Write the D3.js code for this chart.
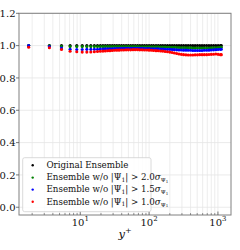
<!DOCTYPE html>
<html><head><meta charset="utf-8">
<script src="https://cdn.jsdelivr.net/npm/d3@7"></script>
<style>body{margin:0;background:#fff}svg{display:block}</style>
</head><body><svg id="c" width="240" height="250"></svg>
<script>
const yPlus = [1.78,3.56,5.34,7.12,8.90,10.68,12.46,14.24,16.02,17.80,19.58,21.36,23.14,
 25,27,29.2,31.5,34,36.7,39.7,42.8,46.3,50,54,58.3,63,68,73.4,79.3,85.6,92.5,100,108,
 116,126,136,147,158,171,185,200,216,233,252,272,294,317,343,370,400,432,466,504,
 544,587,634,685,740,799,863,932,1007,1087,1121];
const original = yPlus.map(() => 1.0);
const wo20 = [1.000,0.999,0.996,0.994,0.994,0.994,0.994,0.994,0.994,0.994,0.994,0.994,0.994,
 0.994,0.994,0.994,0.994,0.994,0.994,0.994,0.994,0.994,0.994,0.994,0.994,0.994,0.994,0.993,0.993,0.993,0.993,0.993,0.993,
 0.992,0.992,0.992,0.991,0.991,0.991,0.990,0.990,0.989,0.989,0.988,0.988,0.987,0.987,0.986,0.986,0.986,0.985,0.985,0.985,
 0.985,0.985,0.985,0.985,0.985,0.986,0.986,0.987,0.988,0.989,0.990];
const wo15 = [1.000,0.995,0.985,0.978,0.976,0.976,0.977,0.977,0.978,0.978,0.979,0.979,0.980,
 0.980,0.981,0.981,0.982,0.982,0.982,0.983,0.983,0.983,0.983,0.983,0.983,0.983,0.983,0.983,0.983,0.982,0.982,0.982,0.981,
 0.981,0.980,0.980,0.979,0.979,0.978,0.977,0.977,0.976,0.975,0.974,0.973,0.973,0.972,0.972,0.971,0.971,0.970,0.970,0.970,
 0.970,0.970,0.971,0.971,0.972,0.973,0.974,0.975,0.976,0.977,0.978];
const wo10 = [0.990,0.987,0.976,0.965,0.962,0.960,0.960,0.961,0.962,0.964,0.965,0.966,0.967,
 0.968,0.969,0.970,0.971,0.972,0.972,0.973,0.973,0.974,0.974,0.974,0.975,0.975,0.975,0.974,0.974,0.973,0.973,0.972,0.971,
 0.970,0.969,0.968,0.967,0.966,0.964,0.962,0.960,0.957,0.954,0.951,0.948,0.946,0.944,0.943,0.942,0.942,0.942,0.943,0.943,
 0.944,0.944,0.944,0.944,0.945,0.946,0.947,0.948,0.946,0.944,0.944];
const yTicks = [0.0,0.2,0.4,0.6,0.8,1.0,1.2];
const xMajor = [10,100,1000];
const seriesNames = ["Original Ensemble","2.0","1.5","1.0"];
const seriesColors = ["#000000","#008000","#0000ff","#ff0000"];
const seriesData = [original, wo20, wo15, wo10];

const svg = d3.select("#c");
const L = 19, R = 231, T = 13.3, B = 215;
const x = d3.scaleLog().domain([Math.pow(10,0.11), Math.pow(10,3.19)]).range([L,R]);
const y = d3.scaleLinear().domain([-0.048,1.2]).range([B,T]);
const serif = "'DejaVu Serif', serif";

const minor = [];
for (let e = 0; e <= 3; e++) for (let m = 2; m <= 9; m++) { const v = m*Math.pow(10,e); if (v > x.domain()[0] && v < x.domain()[1]) minor.push(v); }

const grid = svg.append("g");
grid.selectAll("line.vm").data(minor.concat(xMajor)).join("line")
  .attr("x1", d => x(d)).attr("x2", d => x(d)).attr("y1", T).attr("y2", B)
  .attr("stroke", "#e8e8e8").attr("stroke-width", 0.8);
grid.selectAll("line.h").data(yTicks).join("line")
  .attr("x1", L).attr("x2", R).attr("y1", d => y(d)).attr("y2", d => y(d))
  .attr("stroke", "#e4e4e4").attr("stroke-width", 0.8);

seriesData.forEach((vals, i) => {
  svg.append("g").selectAll("circle").data(yPlus).join("circle")
    .attr("cx", d => x(d)).attr("cy", (d, j) => y(vals[j])).attr("r", 1.55)
    .attr("fill", seriesColors[i]);
});

svg.append("rect").attr("x", L).attr("y", T).attr("width", R-L).attr("height", B-T)
  .attr("fill", "none").attr("stroke", "#808080").attr("stroke-width", 1);

svg.append("g").selectAll("line").data(minor).join("line")
  .attr("x1", d => x(d)).attr("x2", d => x(d)).attr("y1", B).attr("y2", B-2)
  .attr("stroke", "#555").attr("stroke-width", 0.6);
svg.append("g").selectAll("line").data(xMajor).join("line")
  .attr("x1", d => x(d)).attr("x2", d => x(d)).attr("y1", B).attr("y2", B-3.5)
  .attr("stroke", "#555").attr("stroke-width", 0.8);
const xl = svg.append("g").selectAll("text").data(xMajor).join("text")
  .attr("x", d => x(d)).attr("y", 225.5).attr("text-anchor", "middle")
  .attr("font-family", serif).attr("font-size", 10).attr("fill", "#111");
xl.append("tspan").text("10");
xl.append("tspan").attr("dy", -4.3).attr("font-size", 7).text(d => Math.round(Math.log10(d)));

svg.append("g").selectAll("line").data(yTicks).join("line")
  .attr("x1", L).attr("x2", L-3).attr("y1", d => y(d)).attr("y2", d => y(d))
  .attr("stroke", "#555").attr("stroke-width", 0.8);
svg.append("g").selectAll("text").data(yTicks).join("text")
  .attr("x", 15.5).attr("y", d => y(d)).attr("dy", "0.36em").attr("text-anchor", "end")
  .attr("font-family", serif).attr("font-size", 10).attr("fill", "#111")
  .text(d => d3.format(".1f")(d));

const al = svg.append("text").attr("x", 125).attr("y", 238).attr("text-anchor", "middle")
  .attr("font-family", serif).attr("font-size", 11.5).attr("fill", "#111");
al.append("tspan").attr("font-style", "italic").text("y");
al.append("tspan").attr("dy", -5).attr("font-size", 8).text("+");

const lg = svg.append("g");
lg.append("rect").attr("x", 22.7).attr("y", 157.7).attr("width", 128.3).attr("height", 54)
  .attr("rx", 2).attr("fill", "#fff").attr("fill-opacity", 0.85).attr("stroke", "#d0d0d0").attr("stroke-width", 0.8);
const rowY = [165.3, 177.6, 189.6, 201.8];
seriesNames.forEach((nm, i) => {
  lg.append("circle").attr("cx", 32.7).attr("cy", rowY[i]).attr("r", 1.2).attr("fill", seriesColors[i]);
  const t = lg.append("text").attr("x", 46.5).attr("y", rowY[i]).attr("dy", "0.33em")
    .attr("font-family", serif).attr("font-size", 8.7).attr("fill", "#111");
  if (i === 0) { t.text(nm); return; }
  t.append("tspan").text("Ensemble w/o |Ψ");
  t.append("tspan").attr("font-size", 6).attr("dy", 1.8).text("1");
  t.append("tspan").attr("dy", -1.8).text("| > " + nm);
  t.append("tspan").attr("font-style", "italic").text("σ");
  t.append("tspan").attr("font-size", 5.6).attr("dy", 1.9).text("Ψ");
  t.append("tspan").attr("font-size", 4).attr("dy", 0.8).text("1");
});
</script></body></html>
